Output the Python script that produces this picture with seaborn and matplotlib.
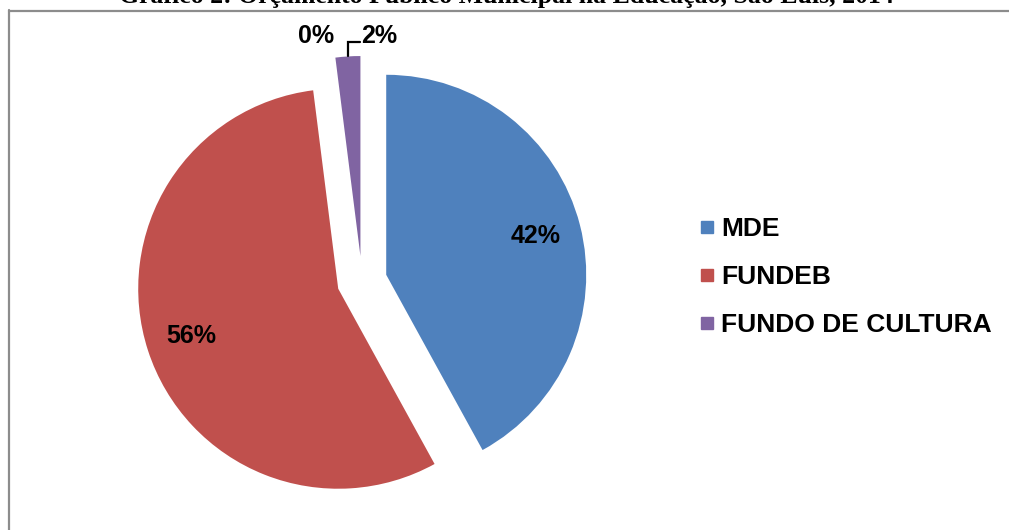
import matplotlib
matplotlib.use("Agg")
import matplotlib.pyplot as plt
from matplotlib.lines import Line2D
import numpy as np
import seaborn as sns

# Budget shares (%) by source
categorias = ["MDE", "FUNDEB", "FUNDO DE CULTURA"]
valores = [42, 56, 2]
cores = ["#4F81BD", "#C0504D", "#8064A2"]
# Source with a negligible share, labelled next to the smallest slice
valor_residual = 0

titulo = "Gráfico 2: Orçamento Público Municipal na Educação, São Luís, 2014"

sns.set_theme(style="white")
plt.rcParams["font.family"] = ["Liberation Sans", "DejaVu Sans"]
plt.rcParams["text.color"] = "black"

W, H, DPI = 1009, 530, 100
fig = plt.figure(figsize=(W / DPI, H / DPI), dpi=DPI)
fig.patch.set_facecolor("white")

# Pie axes: centre at (362, 281) px from top-left, 1 data unit = 200 px
cx, cy, half = 362, 281, 300
ax = fig.add_axes([(cx - half) / W, (H - cy - half) / H, 2 * half / W, 2 * half / H])
explode = [0.125] * len(valores)
wedges, _ = ax.pie(valores, colors=cores, explode=explode, startangle=90,
                   counterclock=False, radius=1.0,
                   wedgeprops=dict(linewidth=0, antialiased=True))
ax.set_xlim(-1.5, 1.5)
ax.set_ylim(-1.5, 1.5)
ax.set_aspect("equal")
ax.axis("off")

rotulo_kw = dict(fontsize=18, fontweight="bold", color="black")

# Percentage labels inside the two large slices
for w, v, e in zip(wedges[:2], valores[:2], explode[:2]):
    ang = np.deg2rad((w.theta1 + w.theta2) / 2)
    r = 0.77 + e
    ax.text(r * np.cos(ang), r * np.sin(ang), f"{v}%", ha="center", va="center", **rotulo_kw)

# Small slice: label with an elbow leader line
w = wedges[2]
ang = np.deg2rad((w.theta1 + w.theta2) / 2)
x0, y0 = (1 + explode[2]) * np.cos(ang), (1 + explode[2]) * np.sin(ang)
y1 = y0 + 0.07
x1 = x0 + 0.06
ax.plot([x0, x0, x1], [y0, y1, y1], color="black", lw=1.6, solid_joinstyle="miter",
        clip_on=False)
ax.text(x1 + 0.005, y1 + 0.03, f"{valores[2]}%", ha="left", va="center", **rotulo_kw)
ax.text(x1 - 0.22, y1 + 0.03, f"{valor_residual}%", ha="center", va="center", **rotulo_kw)

# Legend with square keys
handles = [Line2D([], [], marker="s", linestyle="", color=c, markersize=9) for c in cores]
fig.legend(handles, categorias, loc="center left",
           bbox_to_anchor=(699 / W, (H - 277) / H), frameon=False,
           prop=dict(family="Liberation Sans", weight="bold", size=19),
           labelcolor="black",
           handlelength=0.6, handletextpad=0.25, labelspacing=0.9,
           borderpad=0, borderaxespad=0)

# Chart-area border (top and left edges)
borda = dict(color="#8c8c8c", lw=1.6, transform=None)
fig.add_artist(Line2D([8.5, 8.5], [0, H - 10], **borda))
fig.add_artist(Line2D([8.5, W], [H - 10.5, H - 10.5], **borda))

# Title, sitting above the chart area
t = fig.text(506 / W, (H - 3) / H, titulo, ha="center", va="baseline", color="black",
             fontfamily=["Liberation Serif", "DejaVu Serif"], fontweight="bold", fontsize=16)
fig.canvas.draw()
largura = t.get_window_extent().width
t.set_fontsize(16 * 773 / largura)

fig.savefig("out.png", dpi=DPI, facecolor="white")
